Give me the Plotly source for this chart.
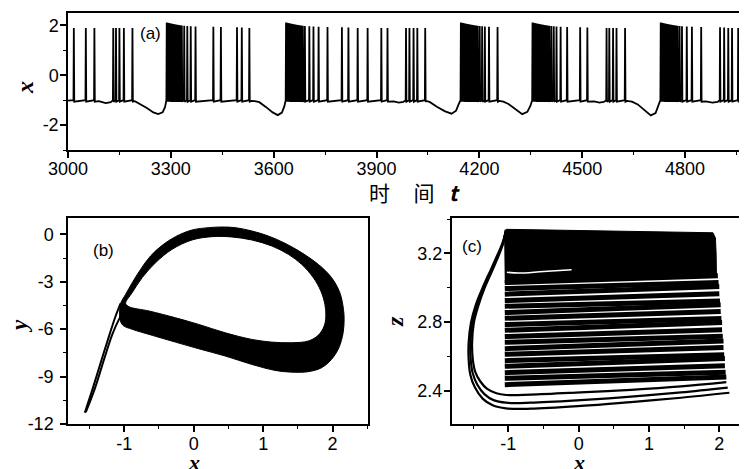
import plotly.graph_objects as go

W, H = 747, 469
OX, OY = 8, 8  # page body offset of the rendered figure

# ---------------- panel (a): x(t) time series ----------------
isolated_peak = 1.9
spike_foot = -1.0
spike_after = -1.06
burst_peaks = [2.12, 2.11, 2.10, 2.09, 2.08, 2.07, 2.06, 2.05, 2.04, 2.03, 2.02,
               2.01, 2.0, 1.99, 1.98, 1.97, 1.96, 1.95, 1.94, 1.93, 1.92]

seg0 = [3017, 3052, 3077, 3132, 3140, 3150, 3163, 3188]
burst1 = [3288, 3291, 3294, 3297, 3300.5, 3304, 3307.5, 3311, 3315, 3319, 3323, 3327.5,
          3332, 3339, 3348, 3358, 3372, 3424, 3446, 3493, 3507, 3529]
burst2 = [3636, 3639, 3642, 3645, 3648.5, 3652, 3655.5, 3659, 3663, 3667, 3671, 3675.5,
          3680, 3685, 3691, 3704, 3716, 3731, 3757, 3799, 3818, 3845, 3874, 3914, 3932,
          3986, 3996, 4008, 4019, 4042]
burst3 = [4146, 4149, 4152, 4155, 4158.5, 4162, 4165.5, 4169, 4173, 4177, 4181, 4185.5,
          4190, 4195, 4201, 4208, 4216, 4228, 4253]
burst4 = [4355, 4358, 4361, 4364, 4367.5, 4371, 4374.5, 4378, 4382, 4386, 4390, 4394.5,
          4399, 4404, 4410, 4417, 4425, 4437, 4456, 4494, 4515, 4571, 4579, 4590, 4600, 4625]
burst5 = [4729, 4732, 4735, 4738, 4741.5, 4745, 4748.5, 4752, 4756, 4760, 4764, 4768.5,
          4773, 4778, 4784, 4791, 4805, 4820, 4847, 4902, 4914, 4926, 4937, 4955]

base_t = [3000, 3090, 3110, 3125, 3195, 3210, 3230, 3249, 3263, 3276, 3283, 3287,
          3535, 3545, 3558, 3578, 3597, 3612, 3624, 3631, 3635,
          3950, 3965, 3978,
          4046, 4056, 4076, 4100, 4119, 4132, 4140, 4145,
          4258, 4270, 4285, 4305, 4325, 4340, 4349, 4354,
          4535, 4550, 4563,
          4630, 4645, 4662, 4682, 4700, 4714, 4723, 4728,
          4860, 4880, 4895, 5000]
base_x = [-1.02, -1.04, -1.12, -1.08, -1.04, -1.15, -1.31, -1.49, -1.56, -1.49, -1.28, -1.0,
          -1.03, -1.04, -1.08, -1.28, -1.49, -1.60, -1.50, -1.25, -1.0,
          -1.05, -1.10, -1.07,
          -1.03, -1.08, -1.26, -1.45, -1.54, -1.42, -1.15, -1.0,
          -1.03, -1.06, -1.15, -1.36, -1.56, -1.47, -1.22, -1.0,
          -1.05, -1.10, -1.07,
          -1.03, -1.06, -1.17, -1.40, -1.61, -1.52, -1.22, -1.0,
          -1.05, -1.10, -1.07, -1.04]

# ---------------- panel (b): x-y projection outline ----------------
outer_x = [-1.052, -0.980, -0.885, -0.765, -0.621, -0.454, -0.263, -0.024, 0.216, 0.407,
           0.598, 0.837, 1.076, 1.315, 1.554, 1.793, 1.985, 2.104, 2.157, 2.166, 2.152,
           2.090, 1.985, 1.841, 1.650, 1.411, 1.172, 0.837, 0.454, 0.072, -0.263, -0.598,
           -0.885, -1.019, -1.061, -1.066, -1.052]
outer_y = [-4.37, -3.80, -3.06, -2.22, -1.37, -0.70, -0.15, 0.27, 0.42, 0.46,
           0.42, 0.21, -0.11, -0.57, -1.16, -1.90, -2.74, -3.69, -4.75, -5.38, -6.23,
           -7.18, -7.91, -8.44, -8.69, -8.72, -8.61, -8.23, -7.70, -7.24, -6.82, -6.39,
           -6.01, -5.76, -5.38, -4.85, -4.37]
inner_x = [-0.932, -0.645, -0.263, 0.072, 0.454, 0.837, 1.124, 1.411, 1.650, 1.793, 1.879,
           1.903, 1.889, 1.831, 1.722, 1.554, 1.363, 1.124, 0.837, 0.550, 0.263, -0.024,
           -0.311, -0.550, -0.741, -0.885, -0.980, -0.932]
inner_y = [-4.58, -4.85, -5.28, -5.70, -6.23, -6.65, -6.82, -6.86, -6.75, -6.39, -5.80,
           -5.17, -4.43, -3.59, -2.74, -1.90, -1.27, -0.74, -0.36, -0.17, -0.15, -0.36,
           -0.95, -1.80, -2.74, -3.69, -4.37, -4.58]
tail1_x = [-1.568, -1.458, -1.339, -1.219, -1.124, -1.052]
tail1_y = [-11.29, -9.81, -8.12, -6.44, -5.17, -4.37]
tail2_x = [-1.554, -1.420, -1.291, -1.172, -1.076, -1.004]
tail2_y = [-11.25, -9.71, -7.91, -6.33, -5.38, -4.85]

# ---------------- panel (c): x-z projection ----------------
block_x = [-1.06, -1.03, 1.91, 1.945, 1.955, 1.96, 0.5, -1.05]
block_z = [3.30, 3.34, 3.32, 3.29, 3.20, 3.07, 3.05, 3.03]
streak_z = [3.03, 2.995, 2.962, 2.925, 2.892, 2.855, 2.822, 2.785, 2.752, 2.715, 2.682,
            2.645, 2.612, 2.575, 2.542, 2.505, 2.472, 2.435]
streak_xr = [1.98, 1.99, 2.0, 2.0, 2.01, 2.02, 2.02, 2.03, 2.04, 2.04, 2.05, 2.06,
             2.06, 2.07, 2.08, 2.08, 2.09, 2.10]
streak_rise = [0.04, 0.035, 0.045, 0.04, 0.03, 0.045, 0.04, 0.035, 0.045, 0.04, 0.035,
               0.045, 0.04, 0.035, 0.045, 0.04, 0.035, 0.045]
streak_xl = -1.05
gap_x = [-1.02, -0.85, -0.5, -0.1]
gap_z = [3.09, 3.085, 3.095, 3.105]
c1_x = [-1.033, -1.081, -1.152, -1.247, -1.365, -1.460, -1.531, -1.564, -1.564, -1.541,
        -1.474, -1.365, -1.223, -1.033, -0.678, 0.034, 0.745, 1.456, 2.144]
c1_z = [3.336, 3.262, 3.194, 3.107, 3.000, 2.903, 2.796, 2.680, 2.583, 2.495,
        2.418, 2.354, 2.315, 2.297, 2.295, 2.311, 2.334, 2.359, 2.388]
c2_x = [-1.033, -1.075, -1.14, -1.235, -1.35, -1.44, -1.51, -1.54, -1.535, -1.505,
        -1.44, -1.34, -1.21, -1.03, -0.68, 0.03, 0.745, 1.456, 2.12]
c2_z = [3.336, 3.262, 3.194, 3.107, 3.0, 2.903, 2.796, 2.68, 2.583, 2.50,
        2.435, 2.38, 2.345, 2.330, 2.330, 2.345, 2.365, 2.39, 2.418]
c3_x = [-1.033, -1.07, -1.13, -1.22, -1.335, -1.42, -1.49, -1.515, -1.505, -1.47,
        -1.40, -1.30, -1.17, -1.03, -0.68, 0.03, 0.745, 1.456, 2.10]
c3_z = [3.336, 3.262, 3.194, 3.107, 3.0, 2.903, 2.796, 2.68, 2.583, 2.51,
        2.455, 2.41, 2.385, 2.375, 2.377, 2.39, 2.405, 2.425, 2.45]

# tick labels (hyphen minus as in the reference)
a_xticks = [3000, 3300, 3600, 3900, 4200, 4500, 4800]
a_yticks = [-2, 0, 2]
a_ylabels = ["-2", "0", "2"]
b_xticks = [-1, 0, 1, 2]
b_xlabels = ["-1", "0", "1", "2"]
b_yticks = [-12, -9, -6, -3, 0]
b_ylabels = ["-12", "-9", "-6", "-3", "0"]
c_yticks = [2.4, 2.8, 3.2]
c_ylabels = ["2.4", "2.8", "3.2"]

# ---------------- build panel (a) polyline ----------------
spikes = []
for gi, grp in enumerate([seg0, burst1, burst2, burst3, burst4, burst5]):
    for i, t in enumerate(grp):
        if gi > 0 and i < len(burst_peaks):
            pk = burst_peaks[i]
        else:
            pk = isolated_peak
        spikes.append((t, pk))
spk_times = [s[0] for s in spikes]
pts = []
for t, xv in zip(base_t, base_x):
    if all(abs(t - s) > 1.6 for s in spk_times):
        pts.append((t, xv))
for t, pk in spikes:
    pts.append((t - 1.0, spike_foot))
    pts.append((t, pk))
    pts.append((t + 1.2, spike_after))
pts.sort()
ts_t = [p[0] for p in pts]
ts_x = [p[1] for p in pts]

fig = go.Figure()
black = "black"
fig.add_trace(go.Scatter(x=ts_t, y=ts_x, mode="lines", line=dict(color=black, width=1.8),
                         xaxis="x", yaxis="y", hoverinfo="skip"))

# panel (b)
fig.add_trace(go.Scatter(x=outer_x, y=outer_y, mode="lines", fill="toself", fillcolor=black,
                         line=dict(color=black, width=1, shape="spline"), xaxis="x2", yaxis="y2"))
fig.add_trace(go.Scatter(x=inner_x, y=inner_y, mode="lines", fill="toself", fillcolor="white",
                         line=dict(color=black, width=1, shape="spline"), xaxis="x2", yaxis="y2"))
for tx, ty in [(tail1_x, tail1_y), (tail2_x, tail2_y)]:
    fig.add_trace(go.Scatter(x=tx, y=ty, mode="lines", line=dict(color=black, width=2, shape="spline"),
                             xaxis="x2", yaxis="y2"))

# panel (c)
fig.add_trace(go.Scatter(x=block_x, y=block_z, mode="lines", fill="toself", fillcolor=black,
                         line=dict(color=black, width=1), xaxis="x3", yaxis="y3"))
for z, xr, rs in zip(streak_z, streak_xr, streak_rise):
    fig.add_trace(go.Scatter(x=[streak_xl, xr], y=[z, z + rs], mode="lines",
                             line=dict(color=black, width=5), xaxis="x3", yaxis="y3"))
fig.add_trace(go.Scatter(x=gap_x, y=gap_z, mode="lines", line=dict(color="white", width=1.5, shape="spline"),
                         xaxis="x3", yaxis="y3"))
for cx, cz in [(c1_x, c1_z), (c2_x, c2_z), (c3_x, c3_z)]:
    fig.add_trace(go.Scatter(x=cx, y=cz, mode="lines", line=dict(color=black, width=2.2, shape="spline"),
                             xaxis="x3", yaxis="y3"))

tickfont = dict(family="Liberation Sans, Arial", size=18, color="black")
ax_common = dict(showline=True, linecolor="black", linewidth=1.5, ticks="outside", ticklen=6,
                 tickwidth=1.5, tickcolor="black", showgrid=False, zeroline=False,
                 tickfont=tickfont, automargin=False)
minor_common = dict(ticks="outside", ticklen=3, tickwidth=1.2, tickcolor="black", showgrid=False)


def px(x):
    return (x - OX) / W


def py(y):
    return 1 - (y - OY) / H


fig.update_layout(
    template="none",
    width=W, height=H, margin=dict(l=0, r=0, t=0, b=0, pad=0),
    paper_bgcolor="white", plot_bgcolor="white", showlegend=False,
    xaxis=dict(domain=[px(68), 1.0], range=[3000, 5004], anchor="y",
               tickvals=a_xticks, ticktext=[str(v) for v in a_xticks], mirror=True,
               ticklabelstandoff=-4,
               minor=dict(dtick=150, tick0=3000, **minor_common), **ax_common),
    yaxis=dict(domain=[py(150), py(13)], range=[-3, 2.5], anchor="x",
               tickvals=a_yticks, ticktext=a_ylabels, mirror=False,
               ticklabelstandoff=-2,
               minor=dict(dtick=1, tick0=0, **minor_common), **ax_common),
    xaxis2=dict(domain=[px(68), px(368)], range=[-1.81, 2.51], anchor="y2",
                tickvals=b_xticks, ticktext=b_xlabels, mirror=True,
                ticklabelstandoff=-3,
                minor=dict(dtick=0.5, tick0=0, **minor_common), **ax_common),
    yaxis2=dict(domain=[py(424), py(218)], range=[-12, 1.03], anchor="x2",
                tickvals=b_yticks, ticktext=b_ylabels, mirror=True,
                ticklabelstandoff=3,
                minor=dict(dtick=1.5, tick0=0, **minor_common), **ax_common),
    xaxis3=dict(domain=[px(451.7), 1.0], range=[-1.805, 2.508], anchor="y3",
                tickvals=b_xticks, ticktext=b_xlabels, mirror=True,
                ticklabelstandoff=-3,
                minor=dict(dtick=0.5, tick0=0, **minor_common), **ax_common),
    yaxis3=dict(domain=[py(424), py(218)], range=[2.206, 3.406], anchor="x3",
                tickvals=c_yticks, ticktext=c_ylabels, mirror=False,
                ticklabelstandoff=-2,
                minor=dict(dtick=0.2, tick0=2.4, **minor_common), **ax_common),
)

lab = dict(family="Liberation Sans, Arial", size=17, color="black")
var = dict(family="Liberation Serif, Times New Roman", size=24, color="black")
varb = dict(family="Liberation Serif, Times New Roman", size=22, color="black")
sp5 = "\u00a0" * 5
sp3 = "\u00a0" * 3
ann = [
    dict(text="(a)", x=px(150), y=py(33), font=lab),
    dict(text="(b)", x=px(104), y=py(251), font=lab),
    dict(text="(c)", x=px(472), y=py(246), font=lab),
    dict(text="<b><i>x</i></b>", x=px(25), y=py(88), font=var, textangle=-90),
    dict(text="<b><i>y</i></b>", x=px(19), y=py(326), font=dict(family=var["family"], size=23, color="black"),
         textangle=-90),
    dict(text="<b><i>z</i></b>", x=px(395), y=py(322), font=var, textangle=-90),
    dict(text="<b><i>x</i></b>", x=px(194), y=py(462), font=varb),
    dict(text="<b><i>x</i></b>", x=px(579), y=py(462), font=varb),
    dict(text="时" + sp5 + "间" + sp3 + "<b><i>t</i></b>", x=px(415), y=py(192),
         font=dict(family="Noto Sans CJK SC, Liberation Serif", size=21, color="black")),
]
for a in ann:
    a.update(xref="paper", yref="paper", showarrow=False, xanchor="center", yanchor="middle")
fig.update_layout(annotations=ann)

fig.write_html("out.html")
